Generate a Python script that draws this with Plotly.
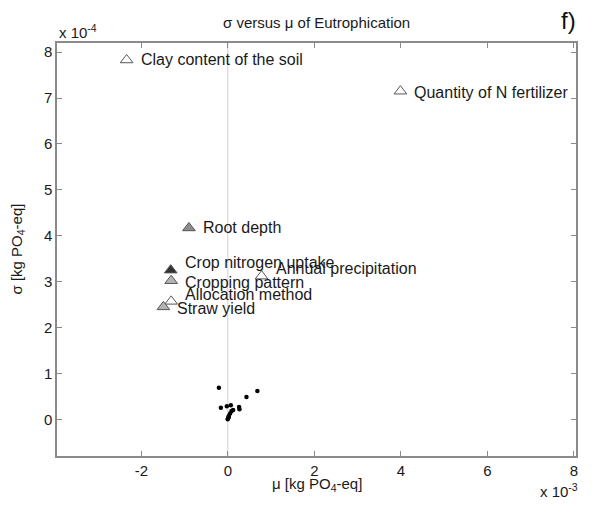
import plotly.graph_objects as go

# Labelled parameters (mu in kg PO4-eq, sigma in kg PO4-eq)
labels = ["Clay content of the soil", "Quantity of N fertilizer", "Root depth",
          "Crop nitrogen uptake", "Cropping pattern", "Annual precipitation",
          "Allocation method", "Straw yield"]
mu_lab = [-2.34e-3, 3.99e-3, -0.90e-3, -1.32e-3, -1.31e-3, 0.78e-3, -1.31e-3, -1.49e-3]
sigma_lab = [7.83e-4, 7.15e-4, 4.17e-4, 3.25e-4, 3.02e-4, 3.12e-4, 2.57e-4, 2.45e-4]
fill_lab = ["white", "white", "#8c8c8c", "#333333", "#b4b4b4", "white", "white", "#b4b4b4"]

# Other parameters (small dots)
mu_dots = [-0.207e-3, 0.683e-3, 0.430e-3, -0.161e-3, -0.023e-3, 0.069e-3, 0.260e-3,
           0.269e-3, 0.085e-3, 0.122e-3, 0.053e-3, 0.023e-3, 0.007e-3, -0.002e-3, 0.015e-3]
sigma_dots = [0.689e-4, 0.615e-4, 0.485e-4, 0.254e-4, 0.283e-4, 0.304e-4, 0.267e-4,
              0.217e-4, 0.180e-4, 0.202e-4, 0.124e-4, 0.072e-4, 0.022e-4, 0.002e-4, 0.045e-4]

x_ticks = [-2, 0, 2, 4, 6, 8]
y_ticks = [0, 1, 2, 3, 4, 5, 6, 7, 8]

# label pixel offsets (style only)
label_dy = [0, -1, 0, 8, -2, 8, 7, -2]

FONT = "Liberation Sans, Arial, sans-serif"
AX = "#8a8a8a"
TXT = "#1a1a1a"

fig = go.Figure()

# zero line
fig.add_trace(go.Scatter(x=[0, 0], y=[-1e-3, 1e-3], mode="lines",
                         line=dict(color="#d0d0d0", width=1), hoverinfo="skip",
                         showlegend=False))

fig.add_trace(go.Scatter(x=mu_dots, y=sigma_dots, mode="markers",
                         marker=dict(color="black", size=4.5), showlegend=False))

fig.add_trace(go.Scatter(x=mu_lab, y=sigma_lab, mode="markers",
                         marker=dict(symbol="triangle-up", size=11, color=fill_lab,
                                     line=dict(color="#555555", width=1)),
                         showlegend=False))

for lab, x, y, dy in zip(labels, mu_lab, sigma_lab, label_dy):
    fig.add_annotation(x=x, y=y, xref="x", yref="y", text=lab, showarrow=False,
                       xanchor="left", yanchor="middle", xshift=12, yshift=dy,
                       font=dict(family=FONT, size=16, color=TXT))

# the page body adds an 8px margin, so the figure is sized to fit the window
fig.update_layout(
    width=583, height=491,
    margin=dict(l=49, r=15, t=35, b=43),
    paper_bgcolor="white", plot_bgcolor="white",
    font=dict(family=FONT, size=15, color=TXT),
    showlegend=False,
    xaxis=dict(range=[-3.95e-3, 8.05e-3], tickvals=[v * 1e-3 for v in x_ticks],
               ticktext=[str(v) for v in x_ticks], showgrid=False, zeroline=False,
               showline=True, linecolor=AX, linewidth=1.5, mirror="ticks",
               ticks="inside", ticklen=5, tickcolor=AX, tickwidth=1,
               tickfont=dict(size=15, color=TXT)),
    yaxis=dict(range=[-0.8e-4, 8.2e-4], tickvals=[v * 1e-4 for v in y_ticks],
               ticktext=[str(v) for v in y_ticks], showgrid=False, zeroline=False,
               showline=True, linecolor=AX, linewidth=1.5, mirror="ticks",
               ticks="inside", ticklen=5, tickcolor=AX, tickwidth=1,
               tickfont=dict(size=15, color=TXT)),
)

fig.add_annotation(text="σ versus μ of Eutrophication", xref="paper", yref="paper",
                   x=0.5, y=1.0, yshift=21, showarrow=False, xanchor="center",
                   yanchor="middle", font=dict(family=FONT, size=15, color=TXT))
fig.add_annotation(text="f)", xref="paper", yref="paper", x=1.0, y=1.0, yshift=23,
                   xshift=2, showarrow=False, xanchor="right", yanchor="middle",
                   font=dict(family=FONT, size=24, color="#111111"))
fig.add_annotation(text="x 10<sup>-4</sup>", xref="paper", yref="paper", x=0.0, y=1.0,
                   yshift=12, showarrow=False, xanchor="left", yanchor="middle",
                   font=dict(family=FONT, size=15, color=TXT))
fig.add_annotation(text="x 10<sup>-3</sup>", xref="paper", yref="paper", x=1.0, y=0.0,
                   yshift=-34, xshift=4, showarrow=False, xanchor="right", yanchor="middle",
                   font=dict(family=FONT, size=15, color=TXT))
fig.add_annotation(text="μ [kg PO<sub>4</sub>-eq]", xref="paper", yref="paper", x=0.5,
                   y=0.0, yshift=-28, showarrow=False, xanchor="center", yanchor="middle",
                   font=dict(family=FONT, size=15, color=TXT))
fig.add_annotation(text="σ [kg PO<sub>4</sub>-eq]", xref="paper", yref="paper", x=0.0,
                   y=0.5, xshift=-40, textangle=-90, showarrow=False, xanchor="center",
                   yanchor="middle", font=dict(family=FONT, size=15, color=TXT))

fig.write_html("out.html")
